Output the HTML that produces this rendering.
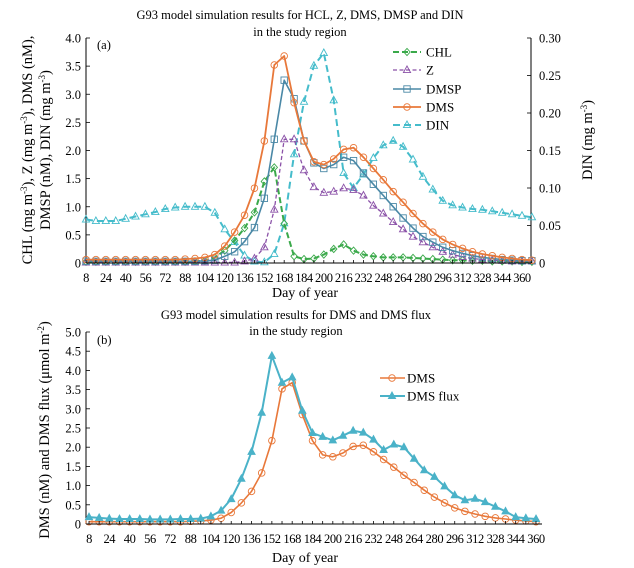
<!DOCTYPE html>
<html><head><meta charset="utf-8">
<style>
body{margin:0;background:#fff;}
svg{display:block;font-family:"Liberation Serif",serif;}
</style></head>
<body>
<svg id="chart" width="634" height="568" viewBox="0 0 634 568" xmlns="http://www.w3.org/2000/svg">
<g id="pa"></g>
<g id="pb"></g>
</svg>
<script>
const days=[8,16,24,32,40,48,56,64,72,80,88,96,104,112,120,128,136,144,152,160,168,176,184,192,200,208,216,224,232,240,248,256,264,272,280,288,296,304,312,320,328,336,344,352,360,368];
const xTickLabels=[8,24,40,56,72,88,104,120,136,152,168,184,200,216,232,248,264,280,296,312,328,344,360];
const yTicksA=[0,0.5,1.0,1.5,2.0,2.5,3.0,3.5,4.0];
const yTickLabelsA=["0","0.5","1.0","1.5","2.0","2.5","3.0","3.5","4.0"];
const yTicksR=[0,0.05,0.10,0.15,0.20,0.25,0.30];
const yTickLabelsR=["0","0.05","0.10","0.15","0.20","0.25","0.30"];
const yTicksB=[0,0.5,1,1.5,2,2.5,3,3.5,4,4.5,5];
const yTickLabelsB=["0","0.5","1.0","1.5","2.0","2.5","3.0","3.5","4.0","4.5","5.0"];
const chl=[0.02,0.02,0.02,0.02,0.02,0.02,0.02,0.02,0.02,0.02,0.02,0.03,0.04,0.1,0.22,0.4,0.62,0.9,1.45,1.7,0.7,0.12,0.07,0.08,0.15,0.25,0.33,0.22,0.15,0.12,0.1,0.1,0.1,0.09,0.08,0.07,0.06,0.05,0.05,0.04,0.04,0.03,0.03,0.03,0.02,0.02];
const zoo=[0.01,0.01,0.01,0.01,0.01,0.01,0.01,0.01,0.01,0.01,0.01,0.01,0.01,0.01,0.01,0.01,0.03,0.08,0.28,0.95,2.2,2.2,1.65,1.35,1.25,1.27,1.33,1.3,1.2,1.02,0.88,0.73,0.6,0.47,0.37,0.28,0.2,0.15,0.11,0.08,0.06,0.05,0.04,0.03,0.03,0.03];
const dmsp=[0.03,0.03,0.03,0.03,0.03,0.03,0.03,0.03,0.03,0.03,0.03,0.03,0.04,0.05,0.12,0.2,0.38,0.63,1.15,2.2,3.25,2.92,2.17,1.78,1.68,1.75,1.88,1.82,1.6,1.4,1.2,1.0,0.8,0.62,0.47,0.37,0.28,0.22,0.17,0.13,0.1,0.08,0.06,0.05,0.04,0.04];
const dms=[0.06,0.06,0.06,0.06,0.06,0.06,0.06,0.06,0.06,0.06,0.07,0.08,0.1,0.15,0.3,0.55,0.85,1.33,2.17,3.52,3.68,2.85,2.17,1.8,1.75,1.85,2.02,2.05,1.88,1.68,1.48,1.27,1.08,0.88,0.7,0.55,0.42,0.33,0.26,0.2,0.16,0.13,0.1,0.08,0.06,0.05];
const din=[0.058,0.056,0.056,0.056,0.059,0.062,0.065,0.068,0.072,0.074,0.075,0.075,0.075,0.067,0.045,0.028,0.01,0.002,0.001,0.012,0.053,0.145,0.215,0.263,0.28,0.217,0.12,0.1,0.118,0.14,0.157,0.163,0.155,0.138,0.115,0.098,0.083,0.077,0.074,0.072,0.071,0.069,0.067,0.065,0.063,0.061];
const dmsB=[0.06,0.06,0.06,0.06,0.06,0.06,0.06,0.06,0.06,0.06,0.07,0.08,0.1,0.15,0.3,0.55,0.85,1.33,2.17,3.52,3.68,2.85,2.17,1.8,1.75,1.85,2.02,2.05,1.88,1.68,1.48,1.27,1.08,0.88,0.7,0.55,0.42,0.33,0.26,0.2,0.16,0.13,0.1,0.08,0.06];
const flux=[0.18,0.16,0.14,0.13,0.13,0.13,0.12,0.12,0.12,0.13,0.13,0.14,0.2,0.35,0.65,1.18,1.88,2.9,4.38,3.68,3.82,2.95,2.37,2.27,2.18,2.3,2.43,2.38,2.2,1.93,2.07,2.0,1.7,1.4,1.23,0.98,0.75,0.62,0.66,0.57,0.45,0.33,0.18,0.15,0.13];

const NS="http://www.w3.org/2000/svg";
function mk(parent,tag,attrs,text){const e=document.createElementNS(NS,tag);for(const k in attrs)e.setAttribute(k,attrs[k]);if(text!==undefined)e.textContent=text;parent.appendChild(e);return e;}

const xA=d=>86+(d-8)*(522-86)/352;
const yA=v=>263-v*(263-38)/4;
const yR=v=>263-v*(263-38)/0.30;
const xB=d=>89+(d-8)*(536-89)/352;
const yB=v=>524-v*(524-332)/5;

function marker(g,type,x,y,color,fill){
  let e;
  if(type==="circle"){e=mk(g,"circle",{cx:x,cy:y,r:3.3,fill:fill||"none",stroke:color,"stroke-width":0.9});}
  else if(type==="square"){e=mk(g,"rect",{x:x-3.2,y:y-3.2,width:6.4,height:6.4,fill:fill||"none",stroke:color,"stroke-width":0.9});}
  else if(type==="diamond"){e=mk(g,"polygon",{points:`${x},${y-3.6} ${x+3.2},${y} ${x},${y+3.6} ${x-3.2},${y}`,fill:fill||"none",stroke:color,"stroke-width":0.9});}
  else {e=mk(g,"polygon",{points:`${x},${y-4} ${x+3.6},${y+2.6} ${x-3.6},${y+2.6}`,fill:fill||"none",stroke:color,"stroke-width":0.9});}
  
  
}
function series(parent,name,vals,xs,ys,color,dash,width,mtype,mfill){
  const g=mk(parent,"g",{});
  
  
  const pts=vals.map((v,i)=>xs(days[i]).toFixed(1)+","+ys(v).toFixed(1)).join(" ");
  const l=mk(g,"polyline",{points:pts,fill:"none",stroke:color,"stroke-width":width,"stroke-dasharray":dash||"none","stroke-linejoin":"round"});
  
  
  vals.forEach((v,i)=>marker(g,mtype,xs(days[i]),ys(v),color,mfill));
}
function xAxis(parent,xs,y0,x0,x1,labY,titleY,n){
  const g=mk(parent,"g",{});
  
  
  mk(g,"line",{x1:x0,y1:y0,x2:x1,y2:y0,stroke:"#000","stroke-width":1});
  days.slice(0,n).forEach(d=>mk(g,"line",{x1:xs(d),y1:y0,x2:xs(d),y2:y0-3,stroke:"#000","stroke-width":0.8}));
  xTickLabels.forEach(d=>{const t=mk(g,"text",{x:xs(d),y:labY,"font-size":12.5,"text-anchor":"middle","letter-spacing":"-0.4"},String(d));
    });
  const t=mk(g,"text",{x:305,y:titleY,"font-size":14,"text-anchor":"middle"},"Day of year");
  
}
function yAxis(parent,name,ys,ticks,labels,x,top,bot,right){
  const g=mk(parent,"g",{});
  
  
  mk(g,"line",{x1:x,y1:top,x2:x,y2:bot,stroke:"#000","stroke-width":1});
  ticks.forEach((v,i)=>{
    mk(g,"line",{x1:x,y1:ys(v),x2:right?x-4:x+4,y2:ys(v),stroke:"#000","stroke-width":0.8});
    const t=mk(g,"text",{x:right?x+8:x-5,y:ys(v)+4.5,"font-size":12.5,"text-anchor":right?"start":"end"},labels[i]);
    
  });
}
function txt(parent,name,attrs,content){const t=mk(parent,"text",attrs);t.innerHTML=content;
  return t;}

// ---------- Panel A ----------
const pa=document.getElementById("pa");
txt(pa,"title-a-line1",{x:300,y:19,"font-size":12.5,"text-anchor":"middle"},"G93 model simulation results for HCL, Z, DMS, DMSP and DIN");
txt(pa,"title-a-line2",{x:300,y:36,"font-size":12.5,"text-anchor":"middle"},"in the study region");
txt(pa,"panel-a-label",{x:97,y:49,"font-size":12.5},"(a)");
yAxis(pa,"y-axis-left",yA,yTicksA,yTickLabelsA,86,38,263,false);
yAxis(pa,"y-axis-right",yR,yTicksR,yTickLabelsR,531,38,263,true);
series(pa,"series-din",din,xA,yR,"#45bccb","7,4",2,"tri");
series(pa,"series-chl",chl,xA,yA,"#3aa94a","6,3",2,"diamond");
series(pa,"series-z",zoo,xA,yA,"#8b52a8","4,2.5",1.3,"tri");
series(pa,"series-dmsp",dmsp,xA,yA,"#4a88a6","none",1.6,"square");
series(pa,"series-dms",dms,xA,yA,"#e8783a","none",1.8,"circle");
xAxis(pa,xA,263,86,531,282,297,46);
txt(pa,"y-axis-left-title",{transform:"translate(32,150) rotate(-90)","font-size":14.5,"text-anchor":"middle"},"CHL (mg m<tspan baseline-shift='super' font-size='9'>-3</tspan>), Z (mg m<tspan baseline-shift='super' font-size='9'>-3</tspan>), DMS (nM),");
txt(pa,"y-axis-left-title-line2",{transform:"translate(50,150) rotate(-90)","font-size":14.5,"text-anchor":"middle"},"DMSP (nM), DIN (mg m<tspan baseline-shift='super' font-size='9'>-3</tspan>)");
txt(pa,"y-axis-right-title",{transform:"translate(592,140) rotate(-90)","font-size":14.5,"text-anchor":"middle"},"DIN (mg m<tspan baseline-shift='super' font-size='9'>-3</tspan>)");
const lgA=mk(pa,"g",{});


const legA=[["CHL","#3aa94a","6,3",2,"diamond",52],["Z","#8b52a8","4,2.5",1.3,"tri",70],["DMSP","#4a88a6","none",1.6,"square",89],["DMS","#e8783a","none",1.8,"circle",107],["DIN","#45bccb","7,4",2,"tri",125]];
legA.forEach(r=>{
  const e=mk(lgA,"g",{});
  
  
  mk(e,"line",{x1:393,y1:r[5],x2:421,y2:r[5],stroke:r[1],"stroke-width":r[3],"stroke-dasharray":r[2]});
  marker(e,r[4],407,r[5],r[1]);
  mk(e,"text",{x:426,y:r[5]+4.5,"font-size":13},r[0]);
});

// ---------- Panel B ----------
const pb=document.getElementById("pb");
txt(pb,"title-b-line1",{x:296,y:319,"font-size":12.5,"text-anchor":"middle"},"G93 model simulation results for DMS and DMS flux");
txt(pb,"title-b-line2",{x:296,y:335,"font-size":12.5,"text-anchor":"middle"},"in the study region");
txt(pb,"panel-b-label",{x:97,y:344,"font-size":12.5},"(b)");
yAxis(pb,"y-axis-b",yB,yTicksB,yTickLabelsB,86,332,524,false);
series(pb,"series-dms-b",dmsB,xB,yB,"#e8783a","none",1.6,"circle");
series(pb,"series-dms-flux",flux,xB,yB,"#4ab2c8","none",2,"tri","#4ab2c8");
xAxis(pb,xB,524,86,542,543,562,45);
txt(pb,"y-axis-b-title",{transform:"translate(49,430) rotate(-90)","font-size":14.5,"text-anchor":"middle"},"DMS (nM) and DMS flux (μmol m<tspan baseline-shift='super' font-size='9'>-2</tspan>)");
const lgB=mk(pb,"g",{});


[["DMS","#e8783a",1.6,"circle",378,null],["DMS flux","#4ab2c8",2,"tri",396,"#4ab2c8"]].forEach(r=>{
  const e=mk(lgB,"g",{});
  
  
  mk(e,"line",{x1:380,y1:r[4],x2:405,y2:r[4],stroke:r[1],"stroke-width":r[2]});
  marker(e,r[3],392,r[4],r[1],r[5]);
  mk(e,"text",{x:407,y:r[4]+4.5,"font-size":13},r[0]);
});
</script>
</body></html>
